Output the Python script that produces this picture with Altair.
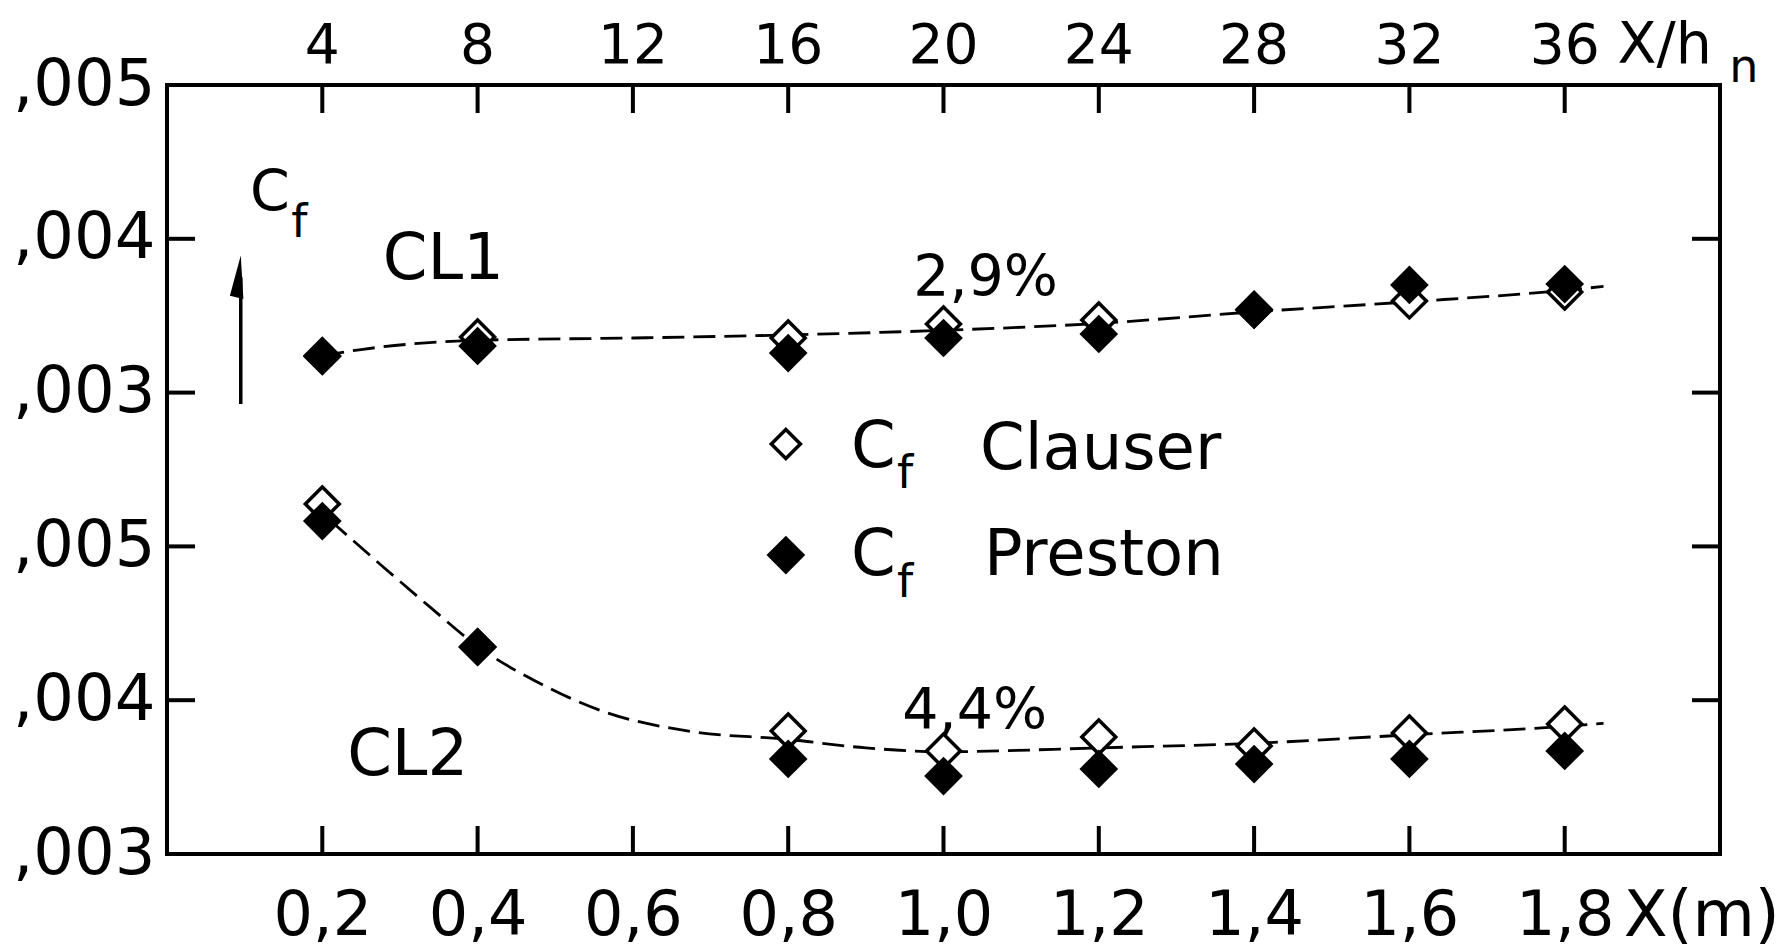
import altair as alt
import pandas as pd

# Streamwise stations (m) and measured skin-friction coefficients
x_m = [0.2, 0.4, 0.8, 1.0, 1.2, 1.4, 1.6, 1.8]

cl1_clauser = [0.00324, 0.003362, 0.003355, 0.003446, 0.003472, 0.00354, 0.003596, 0.003654]
cl1_preston = [0.003235, 0.003303, 0.003257, 0.003355, 0.003381, 0.003537, 0.0037, 0.003706]
cl2_clauser = [0.005276, 0.004346, 0.0038, 0.00367, 0.003761, 0.003702, 0.003787, 0.003845]
cl2_preston = [0.005165, 0.004346, 0.003618, 0.003507, 0.003553, 0.003585, 0.003618, 0.00367]

# Hand-faired trend curves
cl1_fit_x = [0.2, 0.25, 0.4, 0.6, 0.8, 1.0, 1.2, 1.4, 1.6, 1.8, 1.85]
cl1_fit_cf = [0.00324, 0.00328, 0.00334, 0.003355, 0.003375, 0.003405, 0.00345, 0.003525, 0.00359, 0.003665, 0.00369]
cl2_fit_x = [0.21, 0.28, 0.34, 0.40, 0.48, 0.56, 0.67, 0.80, 0.90, 1.0, 1.2, 1.4, 1.6, 1.8, 1.85]
cl2_fit_cf = [0.00517, 0.00486, 0.0046, 0.00435, 0.00411, 0.00393, 0.0038, 0.003745, 0.00369, 0.003665,
              0.00369, 0.00372, 0.003775, 0.00383, 0.00385]

# Axis ticks and labels
x_ticks = [0.2, 0.4, 0.6, 0.8, 1.0, 1.2, 1.4, 1.6, 1.8]
xh_ticks = [4, 8, 12, 16, 20, 24, 28, 32, 36]
y_tick_labels = [",003", ",004", ",005", ",003", ",004", ",005"]

W, H = 1553, 769
FONT = "DejaVu Sans"
TICK = 28


# CL1 is stacked three decades above CL2 on a common axis
def series(xs, cfs, offset, kind):
    return pd.DataFrame({"x": xs, "cf": cfs, "offset": offset, "kind": kind})


pts = pd.concat([
    series(x_m, cl1_clauser, 3, "Clauser"),
    series(x_m, cl1_preston, 3, "Preston"),
    series(x_m, cl2_clauser, 0, "Clauser"),
    series(x_m, cl2_preston, 0, "Preston"),
])
fits = pd.concat([
    series(cl1_fit_x, cl1_fit_cf, 3, "CL1"),
    series(cl2_fit_x, cl2_fit_cf, 0, "CL2"),
])

pos_expr = "(datum.cf - 0.003) * 1000 + datum.offset"

y_scale = alt.Scale(domain=[0, 5], nice=False, zero=False)
x_scale = alt.Scale(domain=[0, 2], nice=False, zero=False)

label_array = "[" + ", ".join("'%s'" % s for s in y_tick_labels) + "]"

x_axis = alt.Axis(values=x_ticks, labelExpr="replace(format(datum.value, '.1f'), '.', ',')",
                  ticks=False, tickSize=0, domain=False, grid=False, title=None,
                  labelFont=FONT, labelFontSize=62, labelColor="black",
                  labelBaseline="alphabetic", labelPadding=80, labelFlush=False, labelOverlap=False)
y_axis = alt.Axis(values=[0, 1, 2, 3, 4, 5], labelExpr=label_array + "[datum.value]",
                  ticks=False, tickSize=0, domain=False, grid=False, title=None,
                  labelFont=FONT, labelFontSize=64, labelColor="black",
                  labelPadding=12, labelFlush=False, labelOverlap=False)


def X(field):
    return alt.X(field, scale=x_scale, axis=x_axis)


def Y(field):
    return alt.Y(field, scale=y_scale, axis=y_axis)


fit_layer = alt.Chart(fits).transform_calculate(pos=pos_expr).mark_line(
    color="black", strokeWidth=2.8, strokeDash=[22, 9], interpolate="monotone"
).encode(x=X("x:Q"), y=Y("pos:Q"), detail="kind:N")

clauser_layer = alt.Chart(pts).transform_filter("datum.kind == 'Clauser'").transform_calculate(
    pos=pos_expr).mark_point(shape="diamond", filled=True, fill="white", stroke="black",
                             strokeWidth=3.5, size=1150, opacity=1).encode(x=X("x:Q"), y=Y("pos:Q"))

preston_layer = alt.Chart(pts).transform_filter("datum.kind == 'Preston'").transform_calculate(
    pos=pos_expr).mark_point(shape="diamond", filled=True, color="black", size=1500,
                             opacity=1).encode(x=X("x:Q"), y=Y("pos:Q"))

# Inward ticks on all four sides of the frame
bottom_ticks = alt.Chart(pd.DataFrame({"x": x_ticks})).mark_rule(color="black", strokeWidth=4).encode(
    x=X("x:Q"), y=alt.value(H - TICK), y2=alt.value(H))
top_ticks = alt.Chart(pd.DataFrame({"x": x_ticks})).mark_rule(color="black", strokeWidth=4).encode(
    x=X("x:Q"), y=alt.value(0), y2=alt.value(TICK))
side = pd.DataFrame({"pos": [1, 2, 3, 4]})
left_ticks = alt.Chart(side).mark_rule(color="black", strokeWidth=4).encode(
    y=Y("pos:Q"), x=alt.value(0), x2=alt.value(TICK))
right_ticks = alt.Chart(side).mark_rule(color="black", strokeWidth=4).encode(
    y=Y("pos:Q"), x=alt.value(W - TICK), x2=alt.value(W))

# Upper axis in X/h_n (h_n = 0.05 m)
top_labels = alt.Chart(pd.DataFrame({"xh": xh_ticks})).transform_calculate(
    xm="datum.xh / 20").mark_text(font=FONT, fontSize=55, baseline="alphabetic", align="center",
                                  color="black").encode(x=X("xm:Q"), y=alt.value(-22), text="xh:Q")


def text_layer(rows, size):
    df = pd.DataFrame(rows, columns=["x", "pos", "label"])
    return alt.Chart(df).mark_text(font=FONT, fontSize=size, align="left", baseline="alphabetic",
                                   color="black").encode(x=X("x:Q"), y=Y("pos:Q"), text="label:N")


big_text = text_layer([
    (0.278, 3.739, "CL1"),
    (0.232, 0.514, "CL2"),
    (0.881, 2.516, "C"),
    (1.047, 2.503, "Clauser"),
    (0.881, 1.814, "C"),
    (1.052, 1.814, "Preston"),
    (1.876, -0.53, "X(m)"),
], 64)
mid_text = text_layer([
    (0.961, 3.628, "2,9%"),
    (0.947, 0.813, "4,4%"),
    (0.107, 4.181, "C"),
    (1.868, 5.143, "X/h"),
], 57)
sub_text = text_layer([
    (0.160, 4.012, "f"),
    (0.940, 2.380, "f"),
    (0.940, 1.671, "f"),
    (2.012, 5.02, "n"),
], 46)

# Legend symbols
legend_pts = pd.DataFrame({"x": [0.797, 0.797], "pos": [2.666, 1.944], "kind": ["Clauser", "Preston"]})
legend_open = alt.Chart(legend_pts).transform_filter("datum.kind == 'Clauser'").mark_point(
    shape="diamond", filled=True, fill="white", stroke="black", strokeWidth=3.5, size=850,
    opacity=1).encode(x=X("x:Q"), y=Y("pos:Q"))
legend_filled = alt.Chart(legend_pts).transform_filter("datum.kind == 'Preston'").mark_point(
    shape="diamond", filled=True, color="black", size=1500, opacity=1).encode(x=X("x:Q"), y=Y("pos:Q"))

# C_f arrow pointing up
arrow = pd.DataFrame({"x": [0.095], "pos": [2.926], "pos2": [3.75]})
arrow_shaft = alt.Chart(arrow).mark_rule(color="black", strokeWidth=3.5).encode(
    x=X("x:Q"), y=Y("pos:Q"), y2="pos2:Q")
arrow_head = alt.Chart(arrow).mark_point(shape="M0,-1L0.12,1L-0.5,0.85Z", filled=True, color="black",
                                         size=1900, opacity=1).encode(x=X("x:Q"), y=Y("pos2:Q"))

chart = alt.layer(
    fit_layer, clauser_layer, preston_layer,
    bottom_ticks, top_ticks, left_ticks, right_ticks,
    top_labels, big_text, mid_text, sub_text,
    legend_open, legend_filled, arrow_shaft, arrow_head,
).properties(
    width=W, height=H,
    autosize=alt.AutoSizeParams(type="none"),
    padding={"left": 167, "top": 85, "right": 66, "bottom": 96},
    background="white",
).configure_view(stroke="black", strokeWidth=4)

chart.save("out.html", embed_options={"renderer": "svg", "actions": False})
